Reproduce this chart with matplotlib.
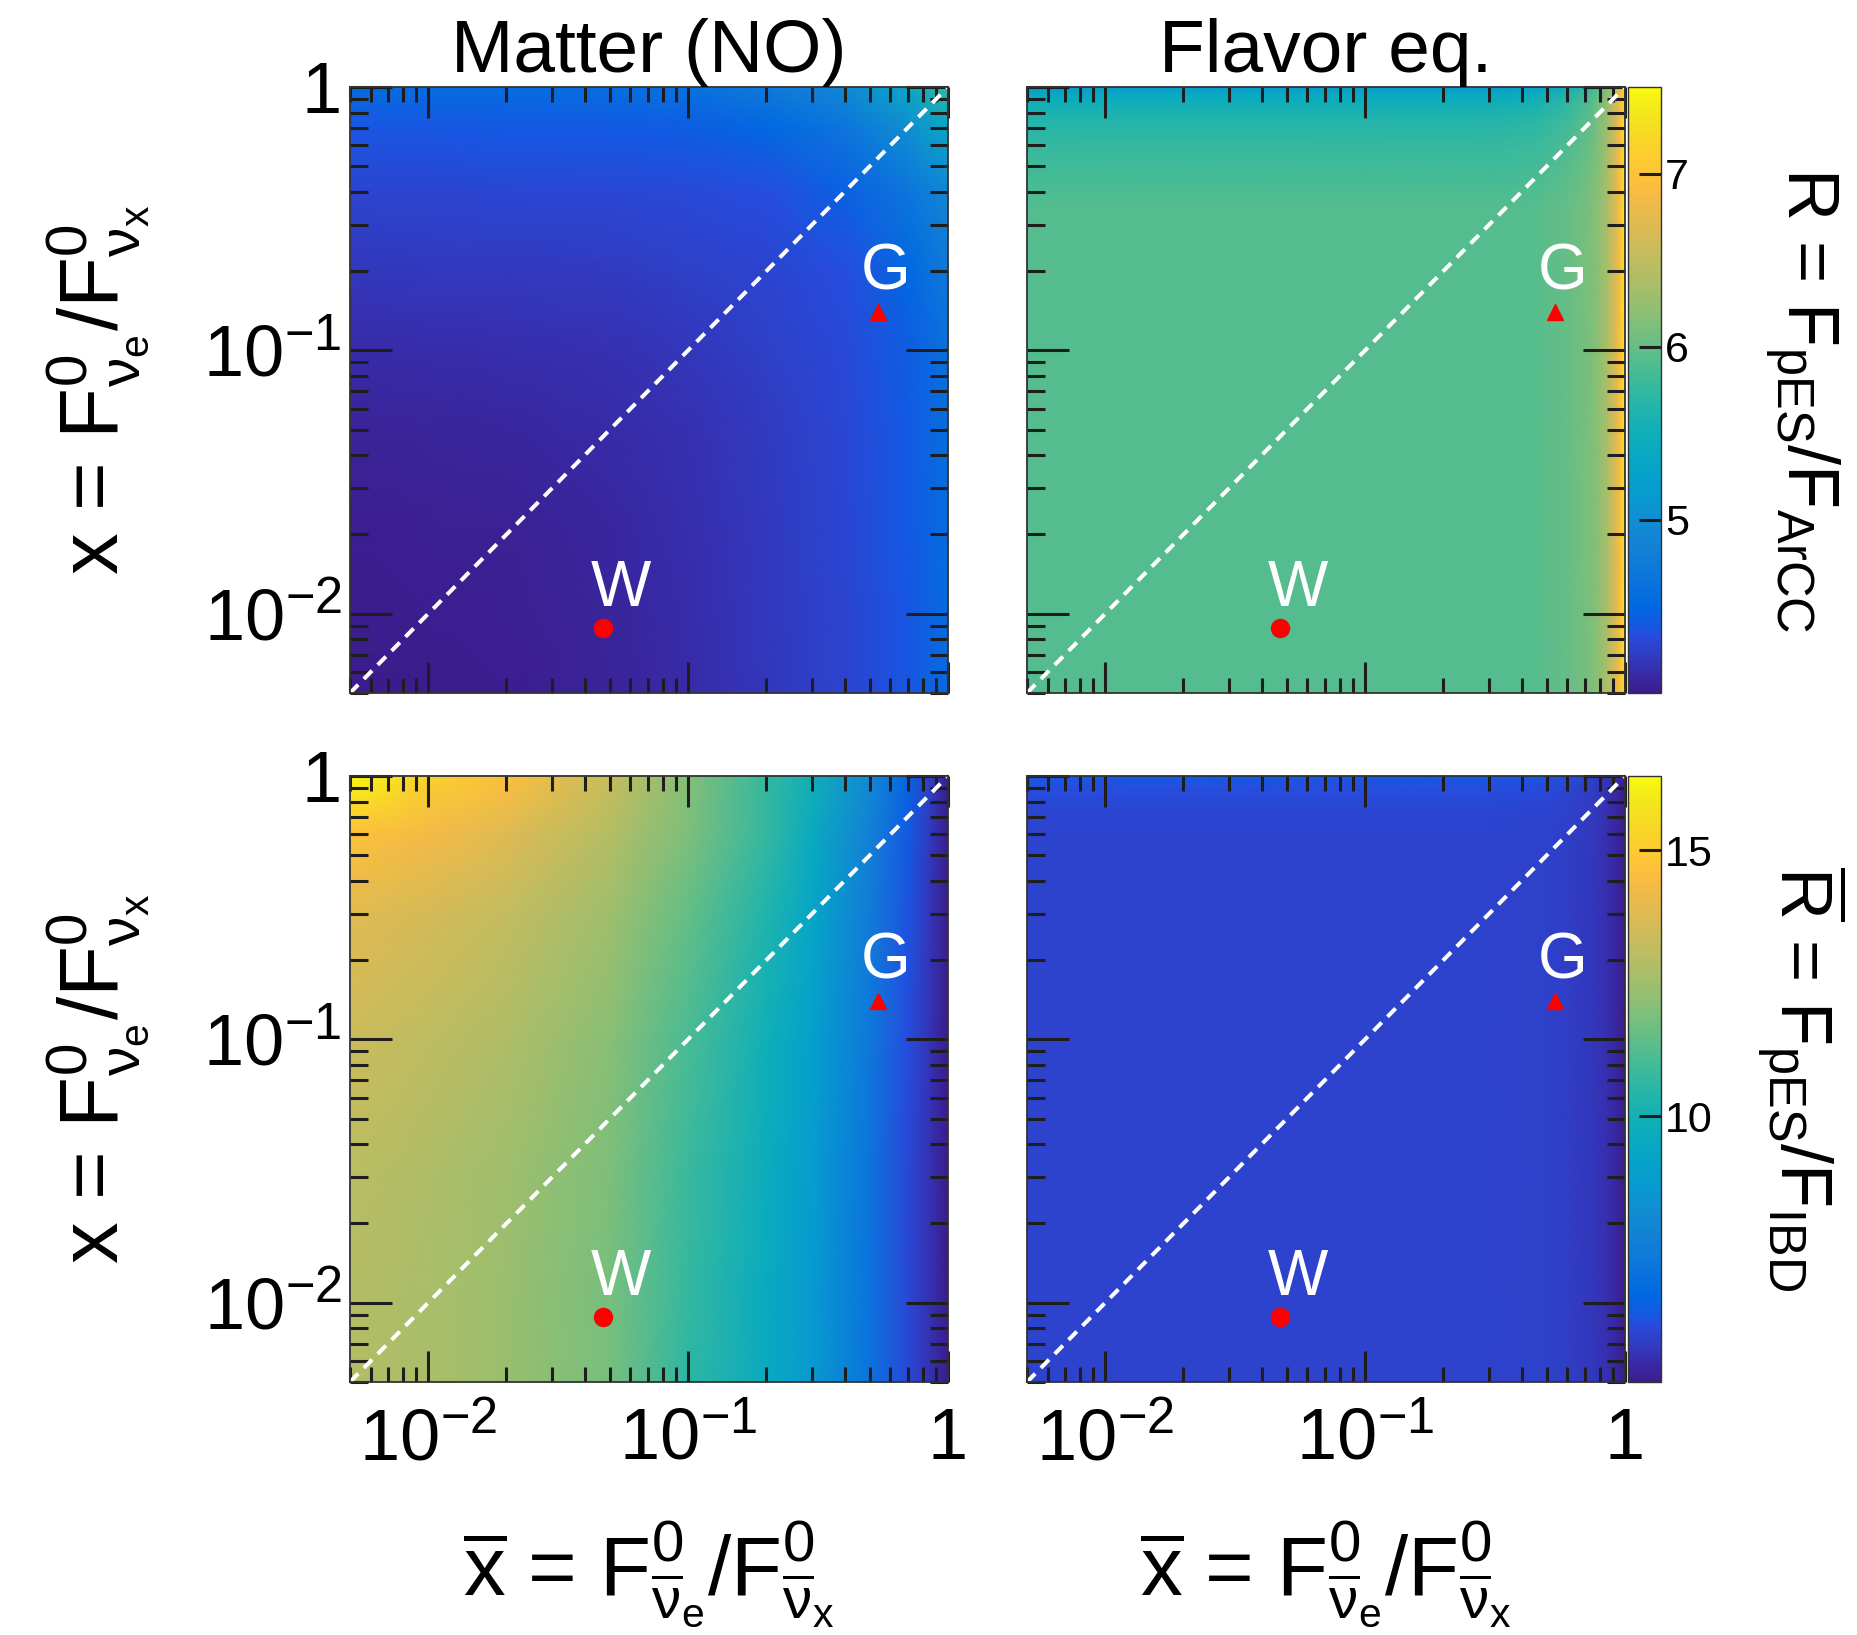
import numpy as np
import matplotlib
matplotlib.use('Agg')
import matplotlib.pyplot as plt
from matplotlib.colors import LinearSegmentedColormap, Normalize
from matplotlib.ticker import FixedLocator, FixedFormatter, LogLocator, NullFormatter

plt.rcParams['font.family'] = ['Liberation Sans', 'DejaVu Sans']
plt.rcParams['mathtext.fontset'] = 'custom'
plt.rcParams['mathtext.rm'] = 'Liberation Sans'
plt.rcParams['mathtext.it'] = 'Liberation Sans'
plt.rcParams['mathtext.sf'] = 'Liberation Sans'
plt.rcParams['mathtext.bf'] = 'Liberation Sans:bold'

# ---------------- data ----------------
column_titles = ['Matter (NO)', 'Flavor eq.']
axis_range = [0.005, 1.0]
major_ticks = [0.01, 0.1, 1.0]
tick_labels = [r'$10^{-2}$', r'$10^{-1}$', '1']

# top-left: R, matter (NO)
tl_x = [0.005, 0.01, 0.02, 0.05, 0.1, 0.2, 0.4, 0.7, 1.0]
tl_y = [0.005, 0.01, 0.02, 0.05, 0.1, 0.2, 0.4, 0.7, 1.0]
tl_R = [
    [4.00, 4.01, 4.02, 4.06, 4.115, 4.19, 4.28, 4.38, 4.55],
    [4.01, 4.02, 4.03, 4.065, 4.12, 4.20, 4.28, 4.38, 4.55],
    [4.02, 4.03, 4.04, 4.08, 4.13, 4.20, 4.29, 4.39, 4.56],
    [4.06, 4.065, 4.08, 4.11, 4.15, 4.21, 4.30, 4.40, 4.58],
    [4.115, 4.12, 4.13, 4.15, 4.19, 4.24, 4.31, 4.42, 4.62],
    [4.19, 4.20, 4.20, 4.21, 4.24, 4.28, 4.34, 4.50, 4.72],
    [4.28, 4.28, 4.29, 4.30, 4.31, 4.34, 4.45, 4.67, 4.92],
    [4.38, 4.38, 4.39, 4.40, 4.42, 4.50, 4.67, 5.00, 5.35],
    [4.55, 4.55, 4.56, 4.58, 4.62, 4.72, 4.92, 5.35, 5.75],
]

# top-right: R, flavor equipartition
tr_x = [0.005, 0.1, 0.3, 0.45, 0.6, 0.75, 0.85, 0.93, 0.97, 1.0]
tr_y = [0.005, 0.1, 0.35, 0.45, 0.6, 0.75, 0.88, 0.95, 1.0]
tr_R = [
    [5.92, 5.92, 5.92, 5.93, 6.00, 6.12, 6.35, 6.75, 7.05, 7.40],
    [5.92, 5.92, 5.92, 5.93, 6.00, 6.12, 6.35, 6.75, 7.05, 7.40],
    [5.92, 5.92, 5.92, 5.93, 6.00, 6.12, 6.35, 6.75, 7.05, 7.40],
    [5.85, 5.85, 5.85, 5.87, 5.95, 6.09, 6.33, 6.74, 7.04, 7.39],
    [5.76, 5.76, 5.76, 5.79, 5.89, 6.05, 6.30, 6.72, 7.03, 7.38],
    [5.65, 5.65, 5.65, 5.69, 5.81, 6.00, 6.27, 6.70, 7.01, 7.37],
    [5.50, 5.50, 5.50, 5.55, 5.71, 5.93, 6.22, 6.67, 6.99, 7.36],
    [5.35, 5.35, 5.35, 5.42, 5.60, 5.86, 6.18, 6.64, 6.96, 7.34],
    [5.10, 5.10, 5.10, 5.19, 5.43, 5.75, 6.10, 6.59, 6.93, 7.32],
]

# bottom-left: Rbar, matter (NO)
bl_x = [0.005, 0.01, 0.02, 0.05, 0.1, 0.2, 0.3, 0.5, 0.7, 0.85, 1.0]
bl_y = [0.005, 0.01, 0.03, 0.1, 0.3, 0.6, 1.0]
bl_Rbar = [
    [12.9, 12.7, 12.4, 11.8, 10.6, 9.6, 8.7, 7.1, 6.0, 5.5, 5.0],
    [12.9, 12.7, 12.4, 11.8, 10.7, 9.6, 8.7, 7.1, 6.0, 5.5, 5.0],
    [13.0, 12.8, 12.5, 11.9, 10.8, 9.7, 8.8, 7.15, 6.0, 5.5, 5.0],
    [13.4, 13.1, 12.8, 12.1, 11.1, 9.9, 9.0, 7.3, 6.1, 5.55, 5.0],
    [13.9, 13.6, 13.2, 12.5, 11.5, 10.3, 9.3, 7.5, 6.2, 5.6, 5.0],
    [14.7, 14.3, 13.8, 12.9, 11.9, 10.7, 9.6, 7.7, 6.3, 5.65, 5.0],
    [16.3, 15.2, 14.6, 13.3, 12.0, 10.7, 9.9, 8.1, 6.6, 5.8, 5.0],
]

# bottom-right: Rbar, flavor equipartition
br_x = [0.005, 0.1, 0.3, 0.5, 0.6, 0.75, 0.85, 0.93, 1.0]
br_y = [0.005, 0.1, 0.4, 0.6, 0.75, 0.9, 1.0]
br_Rbar = [
    [5.85, 5.85, 5.85, 5.82, 5.75, 5.62, 5.45, 5.25, 5.02],
    [5.85, 5.85, 5.85, 5.82, 5.75, 5.62, 5.45, 5.25, 5.02],
    [5.85, 5.85, 5.85, 5.82, 5.75, 5.62, 5.45, 5.25, 5.02],
    [5.88, 5.88, 5.88, 5.85, 5.77, 5.63, 5.46, 5.26, 5.02],
    [5.95, 5.95, 5.95, 5.91, 5.82, 5.67, 5.48, 5.27, 5.03],
    [6.10, 6.10, 6.10, 6.03, 5.93, 5.73, 5.53, 5.30, 5.05],
    [6.30, 6.30, 6.30, 6.20, 6.07, 5.82, 5.59, 5.34, 5.07],
]

R_range = [4.0, 7.5]
R_ticks = [5, 6, 7]
Rbar_range = [5.0, 16.4]
Rbar_ticks = [10, 15]

# benchmark models: (xbar, x)
W_point = (0.047, 0.0088)
G_point = (0.54, 0.14)

# ---------------- colormap (parula-like, ROOT kBird) ----------------
_par = [
    (1, (0.235, 0.110, 0.545)), (3, (0.220, 0.170, 0.660)),
    (5, (0.190, 0.240, 0.770)), (7, (0.150, 0.300, 0.870)),
    (8, (0.080, 0.350, 0.890)), (10, (0.0060, 0.4086, 0.8828)),
    (13, (0.0498, 0.4586, 0.8641)), (16, (0.0779, 0.5040, 0.8384)),
    (19, (0.0641, 0.5570, 0.8240)), (22, (0.0265, 0.6137, 0.8135)),
    (25, (0.0228, 0.6535, 0.7768)), (28, (0.0590, 0.6838, 0.7254)),
    (31, (0.1453, 0.7098, 0.6646)), (34, (0.2586, 0.7317, 0.5954)),
    (37, (0.3953, 0.7459, 0.5244)), (40, (0.5300, 0.7491, 0.4661)),
    (43, (0.6473, 0.7456, 0.4188)), (46, (0.7525, 0.7384, 0.3768)),
    (49, (0.8507, 0.7299, 0.3360)), (52, (0.9450, 0.7261, 0.2886)),
    (54, (0.9938, 0.7455, 0.2403)), (56, (0.9955, 0.7861, 0.1967)),
    (58, (0.9789, 0.8271, 0.1633)), (60, (0.9626, 0.8705, 0.1309)),
    (62, (0.9598, 0.9218, 0.0948)), (64, (0.9763, 0.9831, 0.0538)),
]
parula = LinearSegmentedColormap.from_list('parula', [((k - 1) / 63.0, c) for k, c in _par], N=512)

# ---------------- figure ----------------
W_px, H_px = 1858, 1635
fig = plt.figure(figsize=(W_px / 100, H_px / 100), dpi=100)

def fx(px):
    return px / W_px

def fy(px):
    return 1 - px / H_px

pw, ph = 598, 606
lefts = [350, 1027]
tops = [87, 776]
cb_left, cb_w = 1628, 33

panels = [
    (0, 0, tl_x, tl_y, tl_R, R_range),
    (0, 1, tr_x, tr_y, tr_R, R_range),
    (1, 0, bl_x, bl_y, bl_Rbar, Rbar_range),
    (1, 1, br_x, br_y, br_Rbar, Rbar_range),
]

tick_col = '#1e1e1e'
mappables = {}
for row, col, xs, ys, zs, zr in panels:
    ax = fig.add_axes([fx(lefts[col]), fy(tops[row] + ph), fx(pw), ph / H_px])
    ax.set_xscale('log')
    ax.set_yscale('log')
    m = ax.pcolormesh(np.array(xs), np.array(ys), np.array(zs), shading='gouraud',
                      cmap=parula, norm=Normalize(vmin=zr[0], vmax=zr[1]), rasterized=True)
    mappables[row] = m
    ax.set_xlim(axis_range)
    ax.set_ylim(axis_range)
    ax.plot(axis_range, axis_range, color='white', lw=2.9, ls=(0, (2.9, 2.0)))
    ax.plot(*W_point, 'o', color='red', ms=13, mec='red', zorder=5)
    ax.plot(*G_point, '^', color='red', ms=12, mec='red', zorder=5)
    ax.annotate('W', W_point, xytext=(13, 16), textcoords='offset points', color='white',
                fontsize=46, ha='center', va='baseline')
    ax.annotate('G', G_point, xytext=(5, 16), textcoords='offset points', color='white',
                fontsize=46, ha='center', va='baseline')
    for axis in (ax.xaxis, ax.yaxis):
        axis.set_major_locator(FixedLocator(major_ticks))
        axis.set_minor_locator(LogLocator(base=10, subs=range(2, 10), numticks=20))
        axis.set_minor_formatter(NullFormatter())
        axis.set_major_formatter(FixedFormatter(tick_labels))
    ax.tick_params(which='both', direction='in', top=True, right=True, color=tick_col, width=2.2)
    ax.tick_params(axis='x', which='major', length=22, pad=18, labelsize=52)
    ax.tick_params(axis='x', which='minor', length=11)
    ax.tick_params(axis='y', which='major', length=30, pad=6, labelsize=52)
    ax.tick_params(axis='y', which='minor', length=13)
    if row == 0:
        ax.tick_params(axis='x', labelbottom=False)
        ax.set_title(column_titles[col], fontsize=54, pad=11)
    if col == 1:
        ax.tick_params(axis='y', labelleft=False)
    for s in ax.spines.values():
        s.set_linewidth(1.3)
        s.set_color('#333333')

# colorbars
for row, ticks in ((0, R_ticks), (1, Rbar_ticks)):
    cax = fig.add_axes([fx(cb_left), fy(tops[row] + ph), fx(cb_w), ph / H_px])
    cb = fig.colorbar(mappables[row], cax=cax, ticks=ticks)
    cb.minorticks_off()
    cax.tick_params(direction='in', length=16, width=2.2, color=tick_col, labelsize=31, pad=3)
    cb.outline.set_linewidth(1.0)
    cb.outline.set_edgecolor('#333333')

# axis labels
ylab = r'x = F$^{0}_{\nu_{e}}$/F$^{0}_{\nu_{x}}$'
xlab = r'$\overline{\mathrm{x}}$ = F$^{0}_{\overline{\nu}_{e}}$/F$^{0}_{\overline{\nu}_{x}}$'
for row in (0, 1):
    fig.text(0.0533, fy(tops[row] + ph / 2), ylab, rotation=90, ha='center', va='center', fontsize=60)
for col in (0, 1):
    fig.text(fx(lefts[col] + pw / 2), 0.037, xlab, ha='center', va='center', fontsize=60)

fig.text(0.970, 0.7554, r'R = F$_{\mathrm{pES}}$/F$_{\mathrm{ArCC}}$', rotation=-90,
         ha='center', va='center', fontsize=52)
fig.text(0.970, 0.3405, r'$\overline{\mathrm{R}}$ = F$_{\mathrm{pES}}$/F$_{\mathrm{IBD}}$', rotation=-90,
         ha='center', va='center', fontsize=52)

fig.savefig('out.png', dpi=100)
